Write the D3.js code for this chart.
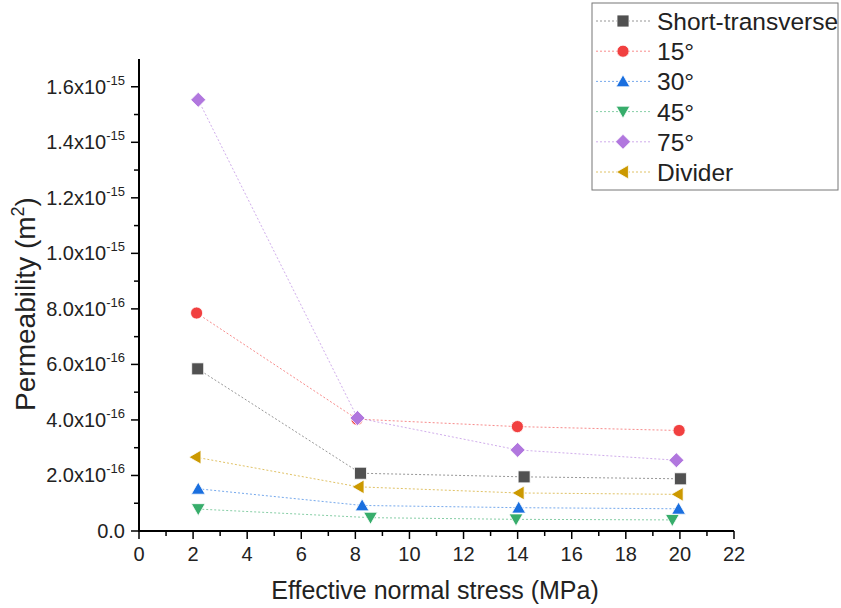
<!DOCTYPE html>
<html>
<head>
<meta charset="utf-8">
<script src="https://cdn.jsdelivr.net/npm/d3@7"></script>
<style>
  body { margin: 0; background: #fff; }
  svg text { font-family: Arial, "Liberation Sans", sans-serif; fill: #222; }
</style>
</head>
<body>
<div id="chart"></div>
<script>
// series names and values
const seriesNames = ["Short-transverse", "15°", "30°", "45°", "75°", "Divider"];
const shortX = [2.17, 8.19, 14.24, 20.02];
const shortY = [5.84e-16, 2.08e-16, 1.95e-16, 1.88e-16];
const deg15X = [2.13, 8.06, 13.99, 19.97];
const deg15Y = [7.85e-16, 4.03e-16, 3.76e-16, 3.62e-16];
const deg30X = [2.19, 8.25, 14.04, 19.95];
const deg30Y = [1.52e-16, 0.92e-16, 0.84e-16, 0.80e-16];
const deg45X = [2.19, 8.56, 13.94, 19.72];
const deg45Y = [0.79e-16, 0.48e-16, 0.42e-16, 0.40e-16];
const deg75X = [2.19, 8.08, 14.0, 19.87];
const deg75Y = [1.553e-15, 4.07e-16, 2.92e-16, 2.55e-16];
const dividerX = [2.09, 8.12, 14.04, 19.92];
const dividerY = [2.66e-16, 1.59e-16, 1.37e-16, 1.32e-16];

const xTicks = d3.range(0, 23, 2);
const yTicks = [0, 2e-16, 4e-16, 6e-16, 8e-16, 1e-15, 1.2e-15, 1.4e-15, 1.6e-15];
const yTickMant = ["0.0", "2.0", "4.0", "6.0", "8.0", "1.0", "1.2", "1.4", "1.6"];
const yTickExp = ["", "-16", "-16", "-16", "-16", "-15", "-15", "-15", "-15"];

const colors = ["#515151", "#F14040", "#1A6FDF", "#37AD6B", "#B177DE", "#CC9900"];
const shapes = ["square", "circle", "up", "down", "diamond", "left"];

const series = [
  [shortX, shortY], [deg15X, deg15Y], [deg30X, deg30Y],
  [deg45X, deg45Y], [deg75X, deg75Y], [dividerX, dividerY]
].map((s, i) => ({
  name: seriesNames[i], color: colors[i], shape: shapes[i],
  points: s[0].map((x, j) => ({ x: x, y: s[1][j] }))
}));

const width = 841, height = 608;
const svg = d3.select("#chart").append("svg")
  .attr("width", width)
  .attr("height", height);

const x = d3.scaleLinear().domain([0, 22]).range([139, 734]);
const y = d3.scaleLinear().domain([0, 1.7e-15]).range([531, 59]);

// marker path for each shape
function markerPath(shape, s) {
  const h = s / 2;
  switch (shape) {
    case "square": return `M${-h},${-h}H${h}V${h}H${-h}Z`;
    case "circle": return d3.symbol(d3.symbolCircle, s * s * 0.8)();
    case "up": return `M0,${-h * 1.1}L${h * 1.15},${h * 0.9}L${-h * 1.15},${h * 0.9}Z`;
    case "down": return `M0,${h * 1.1}L${h * 1.15},${-h * 0.9}L${-h * 1.15},${-h * 0.9}Z`;
    case "diamond": return `M0,${-h * 1.25}L${h * 1.25},0L0,${h * 1.25}L${-h * 1.25},0Z`;
    case "left": return `M${-h * 1.1},0L${h * 0.9},${-h * 1.15}L${h * 0.9},${h * 1.15}Z`;
  }
}

// axes
const axisG = svg.append("g");
axisG.append("line").attr("x1", 139).attr("x2", 734).attr("y1", 531).attr("y2", 531)
  .attr("stroke", "#000").attr("stroke-width", 2);
axisG.append("line").attr("x1", 139).attr("x2", 139).attr("y1", 59).attr("y2", 532)
  .attr("stroke", "#000").attr("stroke-width", 2);

// x ticks
d3.range(0, 23, 1).forEach(v => {
  const major = v % 2 === 0;
  axisG.append("line")
    .attr("x1", x(v)).attr("x2", x(v))
    .attr("y1", 531).attr("y2", 531 + (major ? 8 : 5))
    .attr("stroke", "#000").attr("stroke-width", 1.5);
});
xTicks.forEach(v => {
  axisG.append("text")
    .attr("x", x(v)).attr("y", 561)
    .attr("text-anchor", "middle")
    .attr("font-size", 20)
    .text(v);
});

// y ticks
d3.range(0, 17, 1).forEach(k => {
  const v = k * 1e-16;
  const major = k % 2 === 0;
  axisG.append("line")
    .attr("x1", 139).attr("x2", 139 - (major ? 8 : 5))
    .attr("y1", y(v)).attr("y2", y(v))
    .attr("stroke", "#000").attr("stroke-width", 1.5);
});
yTicks.forEach((v, i) => {
  const t = axisG.append("text")
    .attr("x", 125).attr("y", y(v) + 7)
    .attr("text-anchor", "end")
    .attr("font-size", 20);
  if (yTickExp[i] === "") {
    t.text(yTickMant[i]);
  } else {
    t.append("tspan").text(yTickMant[i] + "x10");
    t.append("tspan").attr("font-size", 13).attr("dy", -9).text(yTickExp[i]);
  }
});

// axis titles
svg.append("text")
  .attr("x", 435).attr("y", 599)
  .attr("text-anchor", "middle")
  .attr("font-size", 25)
  .text("Effective normal stress (MPa)");

const yTitle = svg.append("text")
  .attr("transform", "translate(35,304) rotate(-90)")
  .attr("text-anchor", "middle")
  .attr("font-size", 28);
yTitle.append("tspan").text("Permeability (m");
yTitle.append("tspan").attr("font-size", 18).attr("dy", -11).text("2");
yTitle.append("tspan").attr("dy", 11).text(")");

// lines and markers
const line = d3.line().x(d => x(d.x)).y(d => y(d.y));
const plotG = svg.append("g");
series.forEach(s => {
  plotG.append("path")
    .datum(s.points)
    .attr("d", line)
    .attr("fill", "none")
    .attr("stroke", s.color)
    .attr("stroke-opacity", 0.6)
    .attr("stroke-width", 1)
    .attr("stroke-dasharray", "2,2");
});
series.forEach(s => {
  plotG.selectAll(null)
    .data(s.points)
    .enter()
    .append("path")
    .attr("d", markerPath(s.shape, 12))
    .attr("transform", d => `translate(${x(d.x)},${y(d.y)})`)
    .attr("fill", s.color)
    .attr("stroke", "#fff")
    .attr("stroke-width", 0.8);
});

// legend
const legend = svg.append("g");
legend.append("rect")
  .attr("x", 592).attr("y", 3).attr("width", 246).attr("height", 187)
  .attr("fill", "#fff").attr("stroke", "#777").attr("stroke-width", 1);
series.forEach((s, i) => {
  const ly = 21 + i * 30.2;
  legend.append("line")
    .attr("x1", 596).attr("x2", 650).attr("y1", ly).attr("y2", ly)
    .attr("stroke", s.color).attr("stroke-opacity", 0.6)
    .attr("stroke-width", 1).attr("stroke-dasharray", "2,2");
  legend.append("path")
    .attr("d", markerPath(s.shape, 12))
    .attr("transform", `translate(623,${ly})`)
    .attr("fill", s.color).attr("stroke", "#fff").attr("stroke-width", 0.8);
  legend.append("text")
    .attr("x", 657).attr("y", ly + 9)
    .attr("font-size", 24.5)
    .text(s.name);
});
</script>
</body>
</html>
